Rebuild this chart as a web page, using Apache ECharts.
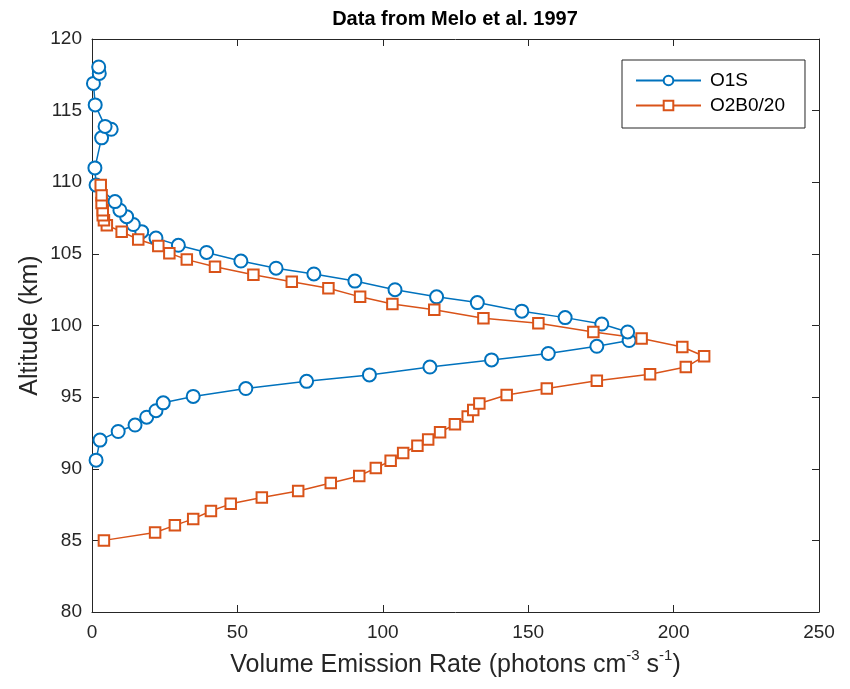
<!DOCTYPE html>
<html>
<head>
<meta charset="utf-8">
<title>Data from Melo et al. 1997</title>
<script src="https://cdn.jsdelivr.net/npm/echarts@6/dist/echarts.min.js"></script>
<style>
  html, body { margin: 0; padding: 0; background: #ffffff; }
  #chart { width: 850px; height: 689px; }
</style>
</head>
<body>
<div id="chart"></div>
<script>
// O(1S) green-line volume emission rate profile
const o1sRate = [1.4, 2.75, 9.0, 14.8, 18.8, 22.0, 24.5, 34.8, 52.9, 73.8, 95.4, 116.2, 137.4, 156.9, 173.6, 184.7,
                 184.2, 175.3, 162.7, 147.8, 132.5, 118.5, 104.2, 90.4, 76.3, 63.3, 51.2, 39.4, 29.7, 22.0, 17.1,
                 14.2, 11.9, 9.6, 7.9, 1.4, 1.0, 3.3, 6.6, 4.5, 1.1, 0.5, 2.5, 2.3];
const o1sAlt  = [90.6, 92.0, 92.6, 93.05, 93.6, 94.05, 94.6, 95.05, 95.6, 96.1, 96.55, 97.1, 97.6, 98.05, 98.55, 98.95,
                 99.55, 100.1, 100.55, 101.0, 101.6, 102.0, 102.5, 103.1, 103.6, 104.0, 104.5, 105.1, 105.6, 106.1, 106.55,
                 107.05, 107.6, 108.05, 108.65, 109.8, 111.0, 113.1, 113.7, 113.9, 115.4, 116.9, 117.6, 118.05];

// O2 atmospheric band (0-0) emission, scaled by 1/20
const o2bRate = [4.1, 21.7, 28.5, 34.8, 40.9, 47.7, 58.4, 70.9, 82.1, 91.9, 97.6, 102.7, 107.0, 111.9, 115.6, 119.7,
                 124.8, 129.2, 131.1, 133.2, 142.6, 156.4, 173.6, 191.9, 204.2, 210.5, 203.0, 189.0, 172.4, 153.5,
                 134.6, 117.7, 103.3, 92.2, 81.3, 68.7, 55.5, 42.3, 32.6, 26.6, 22.8, 15.9, 10.2, 5.1, 4.1, 3.7,
                 3.7, 3.3, 3.3, 3.0];
const o2bAlt  = [85.0, 85.55, 86.05, 86.5, 87.05, 87.55, 88.0, 88.45, 89.0, 89.5, 90.05, 90.55, 91.1, 91.6, 92.05, 92.55,
                 93.1, 93.65, 94.1, 94.55, 95.15, 95.6, 96.15, 96.6, 97.1, 97.85, 98.5, 99.1, 99.55, 100.15,
                 100.5, 101.1, 101.5, 102.0, 102.6, 103.05, 103.55, 104.1, 104.6, 105.05, 105.55, 106.0, 106.55, 107.0,
                 107.35, 107.7, 108.05, 108.55, 109.1, 109.8];

const seriesNames = ['O1S', 'O2B0/20'];
const xTicks = { min: 0, max: 250, step: 50 };
const yTicks = { min: 80, max: 120, step: 5 };

const INK = '#262626';
const FONT = '"Liberation Sans", Arial, Helvetica, sans-serif';

function pairs(xs, ys) {
  return xs.map((x, i) => [x, ys[i]]);
}

const chart = echarts.init(document.getElementById('chart'), null, { renderer: 'canvas' });

const axisCommon = {
  type: 'value',
  axisLine: { show: true, onZero: false, lineStyle: { color: INK, width: 1 } },
  axisTick: { show: true, inside: true, length: 7, lineStyle: { color: INK, width: 1 } },
  splitLine: { show: false }
};

chart.setOption({
  animation: false,
  backgroundColor: '#ffffff',
  title: {
    text: 'Data from Melo et al. 1997',
    left: 455,
    top: 9,
    padding: 0,
    textAlign: 'center',
    textStyle: { fontFamily: FONT, fontSize: 20, fontWeight: 'bold', color: '#000000' }
  },
  legend: {
    data: seriesNames,
    orient: 'vertical',
    left: 622,
    top: 60,
    padding: [11, 20, 13, 13],
    itemGap: 6,
    itemWidth: 65,
    itemHeight: 12,
    borderColor: INK,
    borderWidth: 1,
    backgroundColor: '#ffffff',
    textStyle: { fontFamily: FONT, fontSize: 19, color: '#000000', padding: [0, 0, 0, 4] }
  },
  grid: { left: 92, right: 31, top: 39, bottom: 77, containLabel: false },
  xAxis: [
    Object.assign({}, axisCommon, {
      position: 'bottom',
      min: xTicks.min, max: xTicks.max, interval: xTicks.step,
      axisLabel: { fontFamily: FONT, fontSize: 19, color: INK, margin: 11 },
      name: '{t|Volume Emission Rate (photons cm}{s|-3}{t| s}{s|-1}{t|)}',
      nameLocation: 'middle',
      nameGap: 36,
      nameMoveOverlap: false,
      nameTextStyle: {
        fontFamily: FONT, fontSize: 25, color: INK,
        rich: {
          t: { fontFamily: FONT, fontSize: 25, color: INK, lineHeight: 34 },
          s: { fontFamily: FONT, fontSize: 15, color: INK, lineHeight: 15, verticalAlign: 'top' }
        }
      }
    }),
    Object.assign({}, axisCommon, {
      position: 'top',
      min: xTicks.min, max: xTicks.max, interval: xTicks.step,
      axisLabel: { show: false }
    })
  ],
  yAxis: [
    Object.assign({}, axisCommon, {
      position: 'left',
      min: yTicks.min, max: yTicks.max, interval: yTicks.step,
      axisLabel: { fontFamily: FONT, fontSize: 19, color: INK, margin: 10 },
      name: 'Altitude (km)',
      nameLocation: 'middle',
      nameGap: 49,
      nameMoveOverlap: false,
      nameTextStyle: { fontFamily: FONT, fontSize: 25, color: INK }
    }),
    Object.assign({}, axisCommon, {
      position: 'right',
      min: yTicks.min, max: yTicks.max, interval: yTicks.step,
      axisLabel: { show: false }
    })
  ],
  series: [
    {
      name: seriesNames[0],
      type: 'line',
      xAxisIndex: 0,
      yAxisIndex: 0,
      data: pairs(o1sRate, o1sAlt),
      symbol: 'emptyCircle',
      symbolSize: 13,
      showAllSymbol: true,
      color: '#0072BD',
      lineStyle: { color: '#0072BD', width: 1.5 },
      itemStyle: { color: '#0072BD', borderColor: '#0072BD', borderWidth: 1.5 }
    },
    {
      name: seriesNames[1],
      type: 'line',
      xAxisIndex: 0,
      yAxisIndex: 0,
      data: pairs(o2bRate, o2bAlt),
      symbol: 'emptyRect',
      symbolSize: 10.5,
      showAllSymbol: true,
      color: '#D95319',
      lineStyle: { color: '#D95319', width: 1.5 },
      itemStyle: { color: '#D95319', borderColor: '#D95319', borderWidth: 1.5 }
    }
  ]
});
</script>
</body>
</html>
